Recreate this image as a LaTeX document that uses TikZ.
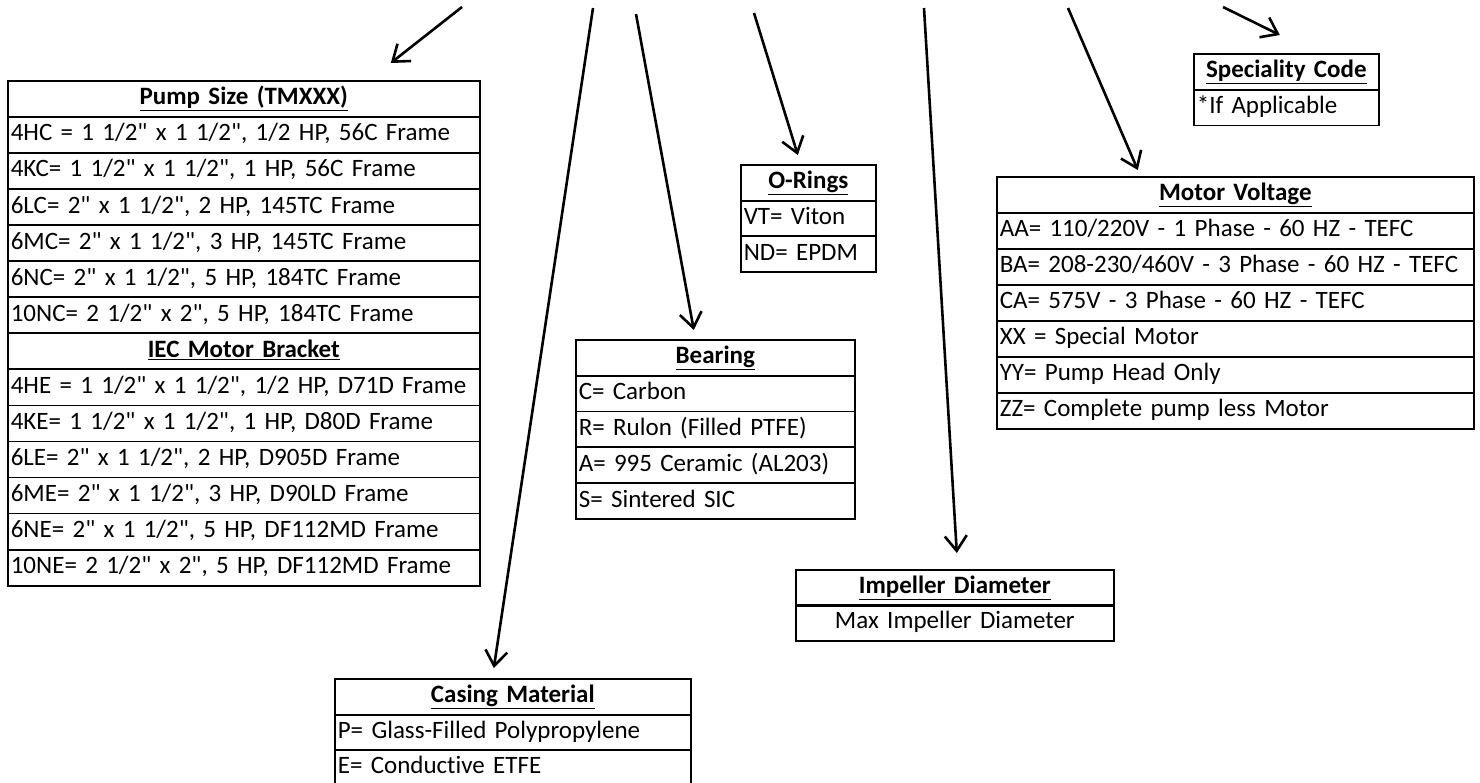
\documentclass[tikz,border=0pt]{standalone}
\usepackage{fontspec}
\setmainfont{Carlito}[Ligatures={TeXOff,NoCommon}]
\usetikzlibrary{arrows.meta}

\newcommand{\hdr}[1]{\makebox[\linewidth][c]{\textbf{\underline{#1}}}}
\newcommand{\midtxt}[1]{\makebox[\linewidth][c]{#1}}

\tikzset{
  cell/.style={draw, line width=1.6pt, anchor=north west, inner xsep=3pt, inner ysep=0pt,
    minimum height=36pt, text width=#1, align=left, text height=17pt, text depth=5pt},
  ptr/.style={line width=2.6pt, -{Straight Barb[length=15pt,width=22pt]}},
}

\begin{document}
\begin{tikzpicture}[x=1pt,y=-1pt,font=\fontsize{25}{30}\selectfont]
\useasboundingbox (0,0) rectangle (1480,782);

% pump size + IEC bracket
\foreach \txt [count=\i from 0] in {{\hdr{Pump Size (TMXXX)}},
    {4HC = 1 1/2" x 1 1/2", 1/2 HP, 56C Frame},
    {4KC= 1 1/2" x 1 1/2", 1 HP, 56C Frame},
    {6LC= 2" x 1 1/2", 2 HP, 145TC Frame},
    {6MC= 2" x 1 1/2", 3 HP, 145TC Frame},
    {6NC= 2" x 1 1/2", 5 HP, 184TC Frame},
    {10NC= 2 1/2" x 2", 5 HP, 184TC Frame},
    {\hdr{IEC Motor Bracket}},
    {4HE = 1 1/2" x 1 1/2", 1/2 HP, D71D Frame},
    {4KE= 1 1/2" x 1 1/2", 1 HP, D80D Frame},
    {6LE= 2" x 1 1/2", 2 HP, D905D Frame},
    {6ME= 2" x 1 1/2", 3 HP, D90LD Frame},
    {6NE= 2" x 1 1/2", 5 HP, DF112MD Frame},
    {10NE= 2 1/2" x 2", 5 HP, DF112MD Frame}}
  \node[cell=466pt] (ps\i) at (7,{80+36.07*\i}) {\txt};

% casing
\foreach \txt [count=\i from 0] in {{\hdr{Casing Material}},
    {P= Glass-Filled Polypropylene}, {E= Conductive ETFE}}
  \node[cell=350pt] (cm\i) at (334,{678+35.5*\i}) {\txt};

% bearing
\foreach \txt [count=\i from 0] in {{\hdr{Bearing}}, {C= Carbon},
    {R= Rulon (Filled PTFE)}, {A= 995 Ceramic (AL203)}, {S= Sintered SIC}}
  \node[cell=273pt] (br\i) at (575,{339+35.8*\i}) {\txt};

% o-rings
\foreach \txt [count=\i from 0] in {{\hdr{O-Rings}}, {VT= Viton}, {ND= EPDM}}
  \node[cell=129pt] (or\i) at (740,{164+35.7*\i}) {\txt};

% impeller
\foreach \txt [count=\i from 0] in {{\hdr{Impeller Diameter}},
    {\midtxt{Max Impeller Diameter}}}
  \node[cell=312pt] (im\i) at (795,{569+35*\i}) {\txt};

% motor voltage
\foreach \txt [count=\i from 0] in {{\hdr{Motor Voltage}},
    {AA= 110/220V - 1 Phase - 60 HZ - TEFC},
    {BA= 208-230/460V - 3 Phase - 60 HZ - TEFC},
    {CA= 575V - 3 Phase - 60 HZ - TEFC},
    {XX = Special Motor}, {YY= Pump Head Only},
    {ZZ= Complete pump less Motor}}
  \node[cell=471pt] (mv\i) at (996,{176+36*\i}) {\txt};

% speciality
\foreach \txt [count=\i from 0] in {{\hdr{Speciality Code}}, {*If Applicable}}
  \node[cell=179pt] (sc\i) at (1193,{53+35.5*\i}) {\txt};

% arrows from the code letters
\coordinate (sPS) at (462,7);
\coordinate (sCM) at (593,8);
\coordinate (sBR) at (636,14);
\coordinate (sOR) at (754,13);
\coordinate (sIM) at (924,8);
\coordinate (sMV) at (1068,8);
\coordinate (sSC) at (1223,7);

\draw[ptr] (sPS) -- ([xshift=147pt,yshift=17pt]ps0.north);
\draw[ptr] (sCM) -- ([xshift=-19pt,yshift=10pt]cm0.north);
\draw[ptr] (sBR) -- ([xshift=-21.5pt,yshift=9pt]br0.north);
\draw[ptr] (sOR) -- ([xshift=-10.5pt,yshift=9pt]or0.north);
\draw[ptr] (sIM) -- ([xshift=2pt,yshift=16pt]im0.north);
\draw[ptr] (sMV) -- ([xshift=-97.5pt,yshift=6pt]mv0.north);
\draw[ptr] (sSC) -- ([xshift=-6.5pt,yshift=18pt]sc0.north);
\end{tikzpicture}
\end{document}
